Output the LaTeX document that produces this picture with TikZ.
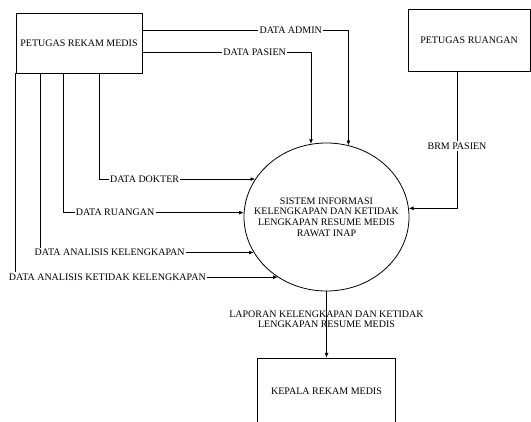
\documentclass[tikz,border=0pt]{standalone}
\usepackage{fontspec}
\setmainfont{Liberation Serif}
\usetikzlibrary{arrows.meta}
\usetikzlibrary{shapes.geometric}
\begin{document}
\begin{tikzpicture}[x=0.75pt,y=0.75pt,yscale=-1,xscale=1,
    font=\fontsize{7.5}{7.9}\selectfont,
    entity/.style={draw, line width=0.6pt, rectangle, inner sep=1pt},
    process/.style={draw, line width=0.6pt, ellipse, minimum width=123.75pt, minimum height=111pt, inner sep=0pt},
    flow/.style={line width=0.6pt, -{Latex[length=3.5pt,width=3pt]}},
    lbl/.style={fill=white, inner sep=1pt},
    lblbare/.style={inner sep=1pt, align=center}]
\useasboundingbox (0,0) rectangle (531,421);
\clip (0,0) rectangle (531,421);

%Shape: Rectangle
\node[entity, minimum width=94.5pt, minimum height=45pt] (rekam) at (79,43) {PETUGAS REKAM MEDIS};
%Shape: Rectangle
\node[entity, minimum width=91.5pt, minimum height=46.5pt] (ruang) at (469,40) {PETUGAS RUANGAN};
%Shape: Rectangle
\node[entity, minimum width=103.5pt, minimum height=49.5pt] (kepala) at (326.5,391) {KEPALA REKAM MEDIS};
%Shape: Ellipse
\node[process] (sys) at (326.5,217) {};
\node[align=center, inner sep=0pt] (systxt) at (sys.center) {SISTEM INFORMASI\\KELENGKAPAN DAN KETIDAK\\LENGKAPAN RESUME MEDIS\\RAWAT INAP};

%Straight Lines
\draw[flow] (rekam.east |- 0,30) -| node[lbl, pos=0.36] {DATA ADMIN} (sys.73.24);
\draw[flow] (rekam.east |- 0,52) -| node[lbl, pos=0.333] {DATA PASIEN} (sys.102.04);
\draw[flow] (rekam.south -| 99,0) |- node[lbl, pos=0.646] {DATA DOKTER} (sys.152.62);
\draw[flow] (rekam.south -| 63,0) |- node[lbl, pos=0.644] {DATA RUANGAN} (sys.177.57);
\draw[flow] (rekam.south -| 40,0) |- node[lbl, pos=0.663] {DATA ANALISIS KELENGKAPAN} (sys.206.54);
\draw[flow] (rekam.south west) |- node[lbl, pos=0.675] {DATA ANALISIS KETIDAK KELENGKAPAN} (sys.231.17);
\draw[flow] (ruang.south -| 457,0) |- node[lbl, pos=0.272] {BRM PASIEN} (sys.6.97);
\draw[flow] (sys.south) -- node[lblbare, pos=0.42] {LAPORAN KELENGKAPAN DAN KETIDAK\\LENGKAPAN RESUME MEDIS} (kepala.north);

\end{tikzpicture}
\end{document}
